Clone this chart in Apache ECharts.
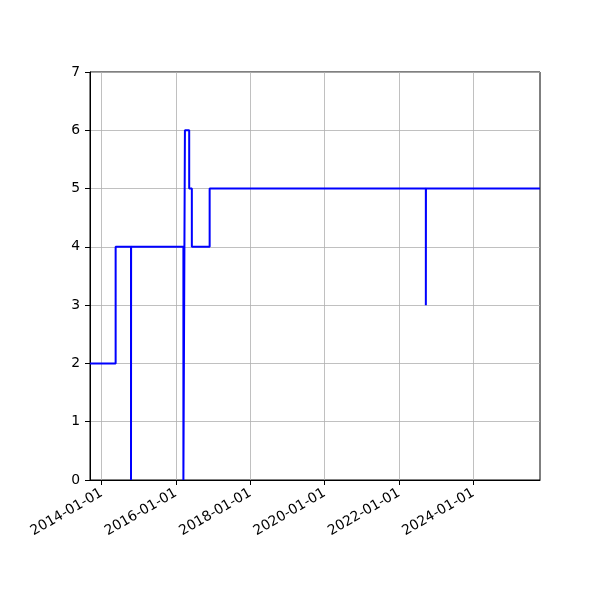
<!DOCTYPE html>
<html><head><meta charset="utf-8">
<script src="https://cdn.jsdelivr.net/npm/echarts@6/dist/echarts.min.js"></script>
<style>html,body{margin:0;padding:0;background:#fff}#c{width:600px;height:600px}</style>
</head><body><div id="c"></div>
<script>
const dates = ['2013-09-08','2014-05-18','2014-10-16','2014-10-17','2016-03-14','2016-03-29','2016-05-10','2016-06-05','2016-11-27','2022-09-22','2022-09-23','2025-10-18'];
const values = [2,4,0,4,0,6,5,4,5,3,5,5];
const xTicks = ['2014-01-01','2016-01-01','2018-01-01','2020-01-01','2022-01-01','2024-01-01'];
const yTicks = [0,1,2,3,4,5,6,7];

const ts = s => new Date(s + 'T00:00:00Z').getTime();
const tickTs = xTicks.map(ts);
const font = 'DejaVu Sans';
const fmt = v => { const d = new Date(v); const p = n => String(n).padStart(2,'0'); return d.getUTCFullYear()+'-'+p(d.getUTCMonth()+1)+'-'+p(d.getUTCDate()); };
const chart = echarts.init(document.getElementById('c'), null, {renderer:'canvas'});
chart.setOption({
  animation:false,
  backgroundColor:'#fff',
  grid:{left:90,right:60,top:72,bottom:120,show:true,borderColor:'#000',borderWidth:1,backgroundColor:'transparent'},
  xAxis:{type:'value',min:ts(dates[0]),max:ts(dates[dates.length-1]),scale:true,
    axisLine:{show:true,onZero:false,lineStyle:{color:'#000',width:1}},
    axisTick:{show:true,length:5,lineStyle:{color:'#000',width:1},customValues:tickTs},
    axisLabel:{customValues:tickTs,rotate:30,margin:12,color:'#000',fontFamily:font,fontSize:13.9,formatter:fmt},
    splitLine:{show:true,lineStyle:{color:'#b0b0b0',width:0.8}}
  },
  yAxis:{type:'value',min:yTicks[0],max:yTicks[yTicks.length-1],interval:1,
    axisLine:{show:true,lineStyle:{color:'#000',width:1}},
    axisTick:{show:true,length:5,lineStyle:{color:'#000',width:1}},
    axisLabel:{margin:10,color:'#000',fontFamily:font,fontSize:13.9},
    splitLine:{show:true,lineStyle:{color:'#b0b0b0',width:0.8}}
  },
  series:[{type:'line',step:'end',showSymbol:false,symbol:'none',
    data:dates.map((d,i)=>[ts(d),values[i]]),
    lineStyle:{color:'#0000ff',width:2},itemStyle:{color:'#0000ff'},z:5}]
});
</script></body></html>
